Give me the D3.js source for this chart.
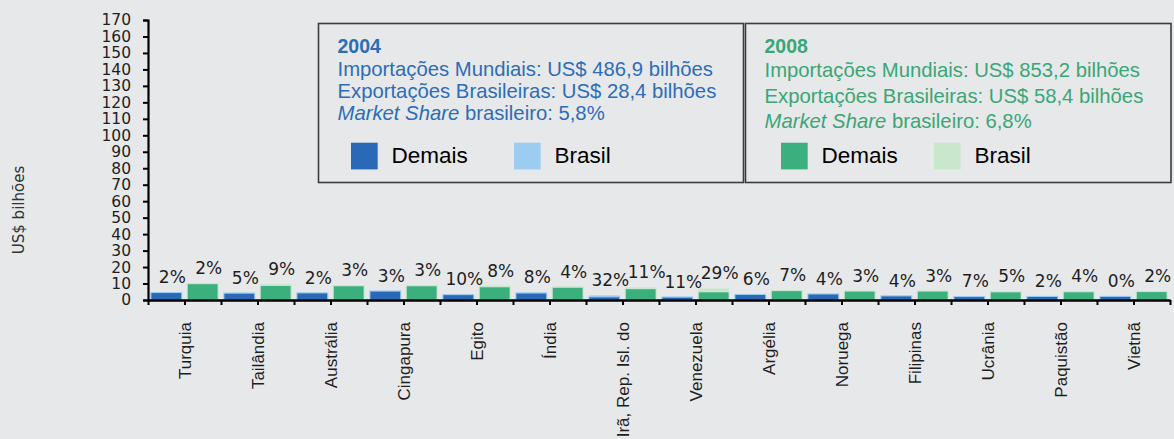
<!DOCTYPE html>
<html>
<head>
<meta charset="utf-8">
<script src="https://cdn.jsdelivr.net/npm/d3@7/dist/d3.min.js"></script>
<style>
    html, body { margin: 0; padding: 0; background: #e7e8ea; }
    svg { display: block; }
</style>
</head>
<body>
<div id="chart"></div>
<script>
(function(d3, window, document, undefined) {
    'use strict';

    // data (US$ bilhões)
    var paises = ['Turquia', 'Tailândia', 'Austrália', 'Cingapura', 'Egito', 'Índia',
                  'Irã, Rep. Isl. do', 'Venezuela', 'Argélia', 'Noruega', 'Filipinas',
                  'Ucrânia', 'Paquistão', 'Vietnã'];
    var anos = ['2004', '2008'];
    var demais2004 = [4.51, 4.18, 4.31, 5.43, 3.24, 4.23, 1.90, 1.78, 3.38, 3.65, 2.50, 2.05, 2.16, 2.20];
    var brasil2004 = [0.09, 0.22, 0.09, 0.17, 0.36, 0.37, 0.90, 0.22, 0.22, 0.15, 0.10, 0.15, 0.04, 0.00];
    var demais2008 = [9.90, 8.83, 8.63, 8.63, 8.00, 7.78, 6.85, 4.97, 5.67, 5.43, 5.43, 4.94, 4.99, 5.10];
    var brasil2008 = [0.20, 0.87, 0.27, 0.27, 0.70, 0.32, 0.85, 2.03, 0.43, 0.17, 0.17, 0.26, 0.21, 0.10];
    var share2004 = ['2%', '5%', '2%', '3%', '10%', '8%', '32%', '11%', '6%', '4%', '4%', '7%', '2%', '0%'];
    var share2008 = ['2%', '9%', '3%', '3%', '8%', '4%', '11%', '29%', '7%', '3%', '3%', '5%', '4%', '2%'];
    var yTicks = d3.range(0, 171, 10);

    var caixas = [
        { ano: '2004', linhas: ['Importações Mundiais: US$ 486,9 bilhões',
                                'Exportações Brasileiras: US$ 28,4 bilhões'], share: '5,8%' },
        { ano: '2008', linhas: ['Importações Mundiais: US$ 853,2 bilhões',
                                'Exportações Brasileiras: US$ 58,4 bilhões'], share: '6,8%' }
    ];

    // colours
    var cores = {
        '2004': { texto: '#2c6db8', demais: '#2969b5', brasil: '#9ccdf0' },
        '2008': { texto: '#3aa676', demais: '#3caf7f', brasil: '#c9e7cd' }
    };

    var W = 1174, H = 439;
    var svg = d3.select('#chart').append('svg')
                .attr('width', W)
                .attr('height', H);

    svg.append('rect')
        .attr('width', W)
        .attr('height', H)
        .attr('fill', '#e7e8ea');

    /**
     * + scales
     * =====================================================================
     */

    var x0 = d3.scaleBand().domain(paises).range([148, 1170]);
    var x1 = d3.scaleBand().domain(anos).range([0, x0.bandwidth()])
                .paddingInner(0.15).paddingOuter(0.08);
    var y = d3.scaleLinear().domain([0, 170]).range([300, 20]);
    var xHalf = d3.scaleLinear().domain([0, paises.length * 2]).range([148, 1170]);

    /* = scales */

    /**
     * + bars
     * =====================================================================
     */

    var linhas = [];
    paises.forEach(function(p, i) {
        linhas.push({ pais: p, ano: '2004', demais: demais2004[i], brasil: brasil2004[i], share: share2004[i] });
        linhas.push({ pais: p, ano: '2008', demais: demais2008[i], brasil: brasil2008[i], share: share2008[i] });
    });

    var grupos = svg.append('g').selectAll('g')
                    .data(linhas)
                    .enter().append('g')
                    .attr('transform', function(d) { return 'translate(' + (x0(d.pais) + x1(d.ano)) + ',0)'; });

    grupos.append('rect')
        .attr('x', 0)
        .attr('width', x1.bandwidth())
        .attr('y', function(d) { return y(d.demais); })
        .attr('height', function(d) { return y(0) - y(d.demais); })
        .attr('fill', function(d) { return cores[d.ano].demais; })
        .attr('stroke', function(d) { return cores[d.ano].brasil; })
        .attr('stroke-width', 1);

    grupos.append('rect')
        .attr('x', 0)
        .attr('width', x1.bandwidth())
        .attr('y', function(d) { return y(d.demais + d.brasil); })
        .attr('height', function(d) { return y(d.demais) - y(d.demais + d.brasil); })
        .attr('fill', function(d) { return cores[d.ano].brasil; });

    grupos.append('text')
        .attr('x', x1.bandwidth() / 2 + 6)
        .attr('y', function(d) { return y(d.demais + d.brasil) - 9; })
        .attr('text-anchor', 'middle')
        .style('font-family', '"DejaVu Sans", Verdana, sans-serif')
        .style('font-size', '17px')
        .attr('fill', '#1e1e1e')
        .text(function(d) { return d.share; });

    /* = bars */

    /**
     * + axes
     * =====================================================================
     */

    var gy = svg.append('g')
                .attr('transform', 'translate(148,0)')
                .call(d3.axisLeft(y).tickValues(yTicks).tickSize(5).tickPadding(12));
    gy.select('.domain').attr('stroke', '#000').attr('stroke-width', 2.2);
    gy.selectAll('.tick line').attr('stroke', '#000').attr('stroke-width', 2);
    gy.selectAll('.tick text')
        .style('font-family', '"DejaVu Sans", Verdana, sans-serif')
        .style('font-size', '15.5px')
        .attr('fill', '#1e1e1e');

    var gxt = svg.append('g')
                .attr('transform', 'translate(0,300)')
                .call(d3.axisBottom(xHalf).tickValues(d3.range(0, paises.length * 2 + 1))
                        .tickSize(5).tickSizeOuter(0).tickFormat(''));
    gxt.select('.domain').attr('stroke', '#000').attr('stroke-width', 2.4);
    gxt.selectAll('.tick line').attr('stroke', '#000').attr('stroke-width', 2);

    var gx = svg.append('g')
                .attr('transform', 'translate(0,300)')
                .call(d3.axisBottom(x0).tickSize(0));
    gx.select('.domain').remove();
    gx.selectAll('.tick text')
        .attr('transform', 'rotate(-90)')
        .attr('x', -22)
        .attr('y', 0)
        .attr('dy', '0.36em')
        .style('text-anchor', 'end')
        .style('font-family', '"Liberation Sans", Arial, sans-serif')
        .style('font-size', '17px')
        .attr('fill', '#1e1e1e');

    svg.append('text')
        .attr('transform', 'translate(24,210) rotate(-90)')
        .attr('text-anchor', 'middle')
        .style('font-family', '"DejaVu Sans", Verdana, sans-serif')
        .style('font-size', '15px')
        .attr('fill', '#333')
        .text('US$ bilhões');

    /* = axes */

    /**
     * + legend boxes
     * =====================================================================
     */

    var boxX = [318.5, 745.5],
        boxW = [425, 425.5],
        lineY = [[52.7, 75.7, 97.7, 120], [52.7, 76.7, 102.7, 128.3]],
        sqX = [[351, 514], [781, 934]];

    caixas.forEach(function(c, i) {
        var cor = cores[c.ano];
        var g = svg.append('g');
        var tx = boxX[i] + 19;

        g.append('rect')
            .attr('x', boxX[i])
            .attr('y', 23.5)
            .attr('width', boxW[i])
            .attr('height', 159)
            .attr('fill', '#e7e8ea')
            .attr('stroke', '#3c3c3c')
            .attr('stroke-width', 1.6);

        var font = '"Liberation Sans", Arial, sans-serif';

        g.append('text')
            .attr('x', tx).attr('y', lineY[i][0])
            .style('font-family', font).style('font-size', '19.5px').style('font-weight', 'bold')
            .attr('fill', cor.texto)
            .text(c.ano);

        c.linhas.forEach(function(l, j) {
            g.append('text')
                .attr('x', tx).attr('y', lineY[i][j + 1])
                .style('font-family', font).style('font-size', '20.3px')
                .attr('fill', cor.texto)
                .text(l);
        });

        var ms = g.append('text')
                    .attr('x', tx).attr('y', lineY[i][3])
                    .style('font-family', font).style('font-size', '20.3px')
                    .attr('fill', cor.texto);
        ms.append('tspan').style('font-style', 'italic').text('Market Share');
        ms.append('tspan').text(' brasileiro: ' + c.share);

        [['Demais', cor.demais], ['Brasil', cor.brasil]].forEach(function(it, k) {
            g.append('rect')
                .attr('x', sqX[i][k]).attr('y', 142.7)
                .attr('width', 26.7).attr('height', 26.7)
                .attr('fill', it[1]);
            g.append('text')
                .attr('x', sqX[i][k] + 40.5).attr('y', 162.7)
                .style('font-family', font).style('font-size', '22.5px')
                .attr('fill', '#000')
                .text(it[0]);
        });
    });

    /* = legend boxes */

})(d3, window, document);
</script>
</body>
</html>
